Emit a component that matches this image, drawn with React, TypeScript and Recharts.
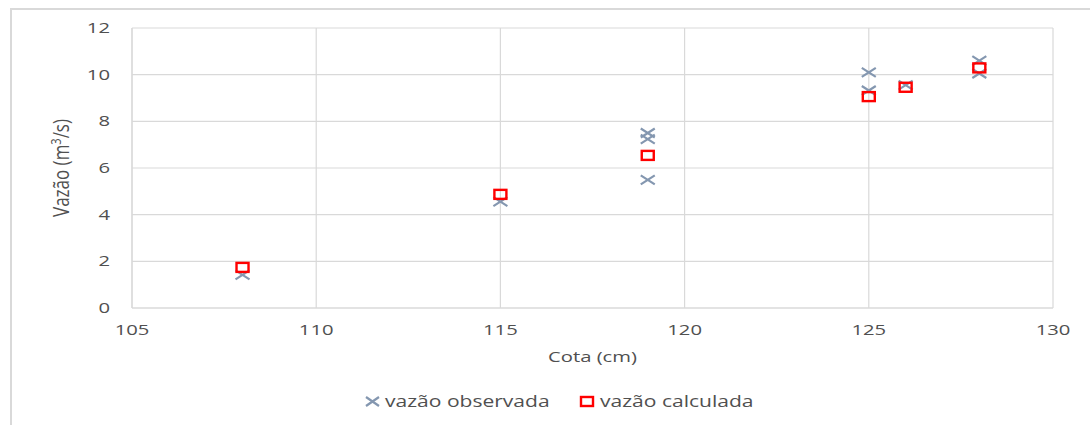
import { ScatterChart, Scatter, XAxis, YAxis, CartesianGrid } from 'recharts';

// Stage (cm) vs discharge (m³/s): observed readings and the rating-curve values
const cotaObservada = [108, 115, 119, 119, 119, 125, 125, 126, 128, 128];
const vazaoObservada = [1.42, 4.56, 7.5, 7.24, 5.49, 10.1, 9.32, 9.55, 10.6, 10.05];

const cotaCalculada = [108, 115, 119, 125, 126, 128];
const vazaoCalculada = [1.74, 4.87, 6.54, 9.06, 9.46, 10.29];

const xTicks = [105, 110, 115, 120, 125, 130];
const yTicks = [0, 2, 4, 6, 8, 10, 12];

const observada = cotaObservada.map((x, i) => ({ x, y: vazaoObservada[i] }));
const calculada = cotaCalculada.map((x, i) => ({ x, y: vazaoCalculada[i] }));

const FONT = '"Open Sans", sans-serif';
const TEXT = '#505050';
const GRID = '#d9d9d9';
const OBS = '#8497B0';
const CALC = '#FF0000';
const SX = 1.35; // horizontal stretch of all text

const Cross = (props: any) => {
  const { cx, cy } = props;
  if (cx == null || cy == null) return null;
  return (
    <path
      d={`M${cx - 7},${cy - 4.5}L${cx + 7},${cy + 4.5}M${cx - 7},${cy + 4.5}L${cx + 7},${cy - 4.5}`}
      stroke={OBS}
      strokeWidth={2.2}
      fill="none"
    />
  );
};

const Box = (props: any) => {
  const { cx, cy } = props;
  if (cx == null || cy == null) return null;
  return <rect x={cx - 6} y={cy - 4.5} width={12} height={9} stroke={CALC} strokeWidth={2.4} fill="none" />;
};

const XTick = (props: any) => {
  const { x, y, payload } = props;
  return (
    <g transform={`translate(${x},${y + 27}) scale(${SX},1)`}>
      <text textAnchor="middle" fill={TEXT} fontSize={15} fontFamily={FONT}>
        {payload.value}
      </text>
    </g>
  );
};

const YTick = (props: any) => {
  const { x, y, payload } = props;
  return (
    <g transform={`translate(${x - 22},${y + 5}) scale(${SX},1)`}>
      <text textAnchor="end" fill={TEXT} fontSize={15} fontFamily={FONT}>
        {payload.value}
      </text>
    </g>
  );
};

const XTitle = (props: any) => {
  const vb = props.viewBox;
  return (
    <g transform={`translate(${vb.x + vb.width / 2},${vb.y + 54}) scale(${SX},1)`}>
      <text textAnchor="middle" fill={TEXT} fontSize={15} fontFamily={FONT}>
        Cota (cm)
      </text>
    </g>
  );
};

const YTitle = (props: any) => {
  const vb = props.viewBox;
  return (
    <g transform={`translate(69,${vb.y + vb.height / 2}) scale(1.3,1) rotate(-90)`}>
      <text textAnchor="middle" fill={TEXT} fontSize={17} fontFamily={FONT}>
        Vazão (m<tspan dy={-6} fontSize={11}>3</tspan>
        <tspan dy={6}>/s)</tspan>
      </text>
    </g>
  );
};

const Legenda = () => (
  <svg width={1090} height={30} style={{ position: 'absolute', left: 0, top: 387 }}>
    <path d="M366,10L379,19M366,19L379,10" stroke={OBS} strokeWidth={2.2} />
    <g transform={`translate(385,20) scale(${SX},1)`}>
      <text fill={TEXT} fontSize={15.6} fontFamily={FONT}>vazão observada</text>
    </g>
    <rect x={581} y={10} width={12} height={9} stroke={CALC} strokeWidth={2.4} fill="none" />
    <g transform={`translate(600,20) scale(${SX},1)`}>
      <text fill={TEXT} fontSize={15.6} fontFamily={FONT}>vazão calculada</text>
    </g>
  </svg>
);

export default function App() {
  return (
    <div
      style={{
        position: 'absolute',
        left: 0,
        top: 0,
        width: 1090,
        height: 425,
        background: '#fff',
        overflow: 'hidden',
      }}
    >
      <div
        style={{
          position: 'absolute',
          left: 10,
          top: 8,
          width: 1100,
          height: 430,
          borderTop: `2px solid ${GRID}`,
          borderLeft: `2px solid ${GRID}`,
        }}
      />
      <ScatterChart width={1090} height={425} margin={{ top: 28, right: 37, left: 0, bottom: 0 }}>
        <CartesianGrid stroke={GRID} strokeWidth={1.2} />
        <XAxis
          type="number"
          dataKey="x"
          domain={[105, 130]}
          ticks={xTicks}
          height={117}
          axisLine={{ stroke: GRID, strokeWidth: 1.2 }}
          tickLine={false}
          tickSize={0}
          tickMargin={0}
          tick={<XTick />}
          label={<XTitle />}
        />
        <YAxis
          type="number"
          dataKey="y"
          domain={[0, 12]}
          ticks={yTicks}
          width={132}
          axisLine={{ stroke: GRID, strokeWidth: 1.2 }}
          tickLine={false}
          tickSize={0}
          tickMargin={0}
          tick={<YTick />}
          label={<YTitle />}
        />
        <Scatter name="vazão observada" data={observada} shape={<Cross />} isAnimationActive={false} />
        <Scatter name="vazão calculada" data={calculada} shape={<Box />} isAnimationActive={false} />
      </ScatterChart>
      <Legenda />
    </div>
  );
}
